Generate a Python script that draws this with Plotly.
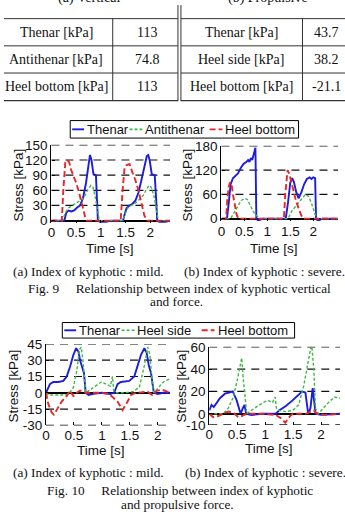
import plotly.graph_objects as go

W, H = 345, 515

# ---------------- data ----------------
tab_a_title = "(a) Vertical"
tab_b_title = "(b) Propulsive"
tab_a_labels = ["Thenar [kPa]", "Antithenar [kPa]", "Heel bottom [kPa]"]
tab_a_values = ["113", "74.8", "113"]
tab_b_labels = ["Thenar [kPa]", "Heel side [kPa]", "Heel bottom [kPa]"]
tab_b_values = ["43.7", "38.2", "-21.1"]

xtick_vals = [0, 0.5, 1, 1.5, 2]
xtick_text = ["0", "0.5", "1", "1.5", "2"]

# Fig 9 (a) mild, vertical
f9a_yticks = [0, 30, 60, 90, 120, 150]
f9a_thenar_t = [0, 0.26, 0.30, 0.34, 0.40, 0.46, 0.52, 0.58, 0.64, 0.70, 0.75, 0.78, 0.81, 0.85, 0.90, 0.92, 0.94, 1.00, 1.10, 1.20,
                1.45, 1.48, 1.52, 1.58, 1.64, 1.70, 1.76, 1.82, 1.88, 1.93, 1.96, 1.99, 2.03, 2.09, 2.12, 2.14, 2.20, 2.30, 2.40]
f9a_thenar_v = [0, 0, 15, 20, 18, 20, 26, 30, 45, 75, 110, 130, 120, 92, 90, 40, 0, -4, -3, 0,
                0, 12, 25, 30, 33, 40, 55, 80, 110, 128, 130, 118, 92, 90, 40, 0, -4, -3, 0]
f9a_anti_t = [0, 0.22, 0.28, 0.34, 0.42, 0.50, 0.56, 0.62, 0.68, 0.74, 0.80, 0.84, 0.88, 0.92, 0.97, 1.05,
              1.44, 1.50, 1.56, 1.62, 1.70, 1.78, 1.86, 1.92, 1.98, 2.02, 2.07, 2.12, 2.16, 2.25, 2.40]
f9a_anti_v = [0, 0, 15, 25, 30, 35, 38, 42, 50, 62, 70, 66, 50, 30, 0, 0,
              0, 15, 28, 30, 35, 42, 50, 62, 70, 66, 50, 25, 0, 0, 0]
f9a_heel_t = [0, 0.21, 0.24, 0.28, 0.32, 0.36, 0.40, 0.44, 0.50, 0.56, 0.62, 0.68, 0.72, 0.80,
              1.40, 1.44, 1.48, 1.52, 1.58, 1.64, 1.70, 1.76, 1.82, 1.88, 1.94, 2.00, 2.40]
f9a_heel_v = [0, 0, 60, 115, 120, 115, 100, 90, 75, 55, 30, 8, 0, 0,
              0, 60, 105, 110, 112, 95, 80, 60, 35, 10, 0, 0, 0]

# Fig 9 (b) severe, vertical
f9b_yticks = [0, 60, 120, 180]
f9b_thenar_t = [0, 0.12, 0.16, 0.20, 0.25, 0.30, 0.36, 0.42, 0.48, 0.54, 0.58, 0.61, 0.64, 0.67, 0.70, 0.74, 0.76, 0.80, 0.90,
                1.40, 1.45, 1.50, 1.54, 1.58, 1.63, 1.68, 1.74, 1.80, 1.86, 1.92, 1.96, 2.00, 2.04, 2.06, 2.10, 2.20, 2.54]
f9b_thenar_v = [0, 0, 40, 85, 100, 105, 112, 125, 135, 140, 145, 140, 150, 145, 160, 175, 0, -5, 0,
                0, 40, 90, 100, 90, 65, 50, 65, 85, 98, 102, 98, 102, 100, 0, -5, 0, 0]
f9b_anti_t = [0, 0.20, 0.26, 0.32, 0.38, 0.43, 0.50, 0.56, 0.62, 0.68, 0.74, 0.79, 0.84,
              1.40, 1.45, 1.54, 1.60, 1.65, 1.70, 1.76, 1.83, 1.90, 1.97, 2.04, 2.08, 2.54]
f9b_anti_v = [0, 0, 12, 25, 38, 45, 50, 48, 35, 20, 10, 5, 0,
              0, 0, 20, 28, 35, 43, 50, 60, 55, 35, 10, 0, 0]
f9b_heel_t = [0, 0.10, 0.13, 0.16, 0.19, 0.22, 0.25, 0.29, 0.33, 0.37,
              1.36, 1.39, 1.42, 1.44, 1.48, 1.54, 1.61, 1.68, 1.75, 1.79, 2.54]
f9b_heel_v = [0, 0, 50, 80, 90, 85, 60, 30, 10, 0,
              0, 60, 110, 120, 110, 80, 50, 25, 5, 0, 0]

# Fig 10 (a) mild, propulsive
f10a_yticks = [-30, -15, 0, 15, 30, 45]
f10a_thenar_t = [0, 0.07, 0.13, 0.22, 0.31, 0.37, 0.43, 0.49, 0.54, 0.58, 0.61, 0.66, 0.68, 0.71, 0.76, 0.85, 1.00, 1.15,
                 1.22, 1.28, 1.34, 1.49, 1.58, 1.64, 1.70, 1.76, 1.80, 1.84, 1.88, 1.93, 2.00, 2.10, 2.22]
f10a_thenar_v = [0, 8, 10, 10, 11, 15, 24, 35, 41, 38, 30, 22, 18, 0, -2, -1, 0, -1,
                 0, 8, 10, 11, 15, 25, 35, 41, 37, 25, 18, 0, -1, 0, 0]
f10a_side_t = [0, 0.05, 0.20, 0.35, 0.42, 0.49, 0.55, 0.60, 0.63, 0.66, 0.71, 0.80, 0.89, 0.99, 1.08, 1.15, 1.19, 1.21, 1.25,
               1.40, 1.55, 1.67, 1.76, 1.82, 1.86, 1.90, 1.93, 2.02, 2.10, 2.22]
f10a_side_v = [0, -2, -2, -2, 0, 5, 20, 40, 42, 30, 0, 3, 6, 10, 8, 6, 15, 2, 0,
               0, 1, 5, 25, 42, 35, 10, 0, 5, 10, 13]
f10a_heel_t = [0, 0.04, 0.10, 0.14, 0.20, 0.28, 0.37, 0.43, 0.49, 0.55, 0.61, 0.71, 0.95, 1.13,
               1.28, 1.37, 1.46, 1.52, 1.61, 1.82, 1.90, 1.99, 2.08, 2.22]
f10a_heel_v = [0, -10, -18, -20, -15, -8, -3, 2, -3, 0, 2, 0, 0, -1,
               -8, -16, -8, -2, 0, 1, -2, 2, 3, 0]

# Fig 10 (b) severe, propulsive
f10b_yticks = [-10, 0, 20, 40, 60]
f10b_thenar_t = [0, 0.04, 0.08, 0.13, 0.19, 0.28, 0.37, 0.42, 0.49, 0.53, 0.56, 0.60, 0.63, 0.66, 0.75, 0.95,
                 1.19, 1.25, 1.37, 1.49, 1.60, 1.66, 1.72, 1.77, 1.81, 1.85, 1.88, 1.90, 2.00, 2.34]
f10b_thenar_v = [3, 8, 6, 10, 14, 18, 19, 20, 12, 5, 0, 5, 8, 0, -1, 0,
                 0, 3, 7, 12, 17, 20, 19, 0, 5, 23, 10, 0, -1, 0]
f10b_side_t = [0, 0.25, 0.34, 0.43, 0.50, 0.56, 0.58, 0.61, 0.65, 0.67, 0.75, 0.84, 0.96, 1.05, 1.13, 1.18, 1.20, 1.25,
               1.37, 1.49, 1.60, 1.69, 1.78, 1.83, 1.87, 1.90, 1.95, 2.04, 2.13, 2.24, 2.34]
f10b_side_v = [0, 0, 5, 15, 30, 48, 50, 30, 5, 0, 3, 6, 10, 12, 10, 15, 5, 3,
               2, 3, 8, 25, 50, 63, 40, 5, 0, 5, 10, 15, 14]
f10b_heel_t = [0, 0.07, 0.16, 0.25, 0.34, 0.43, 0.52, 0.58, 0.66, 0.96,
               1.19, 1.28, 1.36, 1.43, 1.49, 1.72, 1.87, 1.93, 2.08, 2.34]
f10b_heel_v = [0, -3, -2, 0, 2, 1, -3, -2, 0, 0,
               -1, -4, -8, -3, 0, 0, 3, 0, -1, 0]

fig9_names = ["Thenar", "Antithenar", "Heel bottom"]
fig10_names = ["Thenar", "Heel side", "Heel bottom"]

# ---------------- styling helpers ----------------
BLUE = "#1c1ce0"
GREEN = "#3fb844"
RED = "#e8262b"
SANS = "Liberation Sans, Arial, sans-serif"
SERIF = "Liberation Serif, Times New Roman, serif"
STYLES = [dict(color=BLUE, width=1.9),
          dict(color=GREEN, width=1.4, dash="3px,2px"),
          dict(color=RED, width=1.9, dash="6px,3px")]
TICK_FONT = dict(family=SANS, size=13.5, color="#111")


def px(x):
    return x / W


def py(y):
    return 1 - y / H


fig = go.Figure()
shapes = []
annotations = []


def ann(text, x, y, size=13.3, family=SERIF, xanchor="center", yanchor="middle", angle=0):
    annotations.append(dict(text=text, x=px(x), y=py(y), xref="paper", yref="paper",
                            showarrow=False, xanchor=xanchor, yanchor=yanchor, textangle=angle,
                            font=dict(family=family, size=size, color="#111")))


def hline(x0, x1, y, width=1, color="#333"):
    shapes.append(dict(type="line", xref="paper", yref="paper", x0=px(x0), x1=px(x1), y0=py(y), y1=py(y),
                       line=dict(color=color, width=width)))


def vline(x, y0, y1, width=1, color="#333"):
    shapes.append(dict(type="line", xref="paper", yref="paper", x0=px(x), x1=px(x), y0=py(y0), y1=py(y1),
                       line=dict(color=color, width=width)))


# ---------------- table ----------------
hline(0, 176, 12)
hline(179, 345, 12)
for yy in (40, 68):
    hline(0, 176, yy)
    hline(179, 345, yy)
hline(0, 176, 96.5, width=1.3)
hline(179, 345, 96.5, width=1.3)
vline(176, -2, 97)
vline(179, -2, 97)
vline(110, 12, 96.5)
vline(302, 12, 96.5)
ann(tab_a_title, 86, -9, size=14)
ann(tab_b_title, 267, -9, size=14)
for i in range(3):
    yc = 26 + 28 * i
    ann(tab_a_labels[i], 53, yc, size=14)
    ann(tab_a_values[i], 145, yc, size=14)
    ann(tab_b_labels[i], 240, yc, size=14)
    ann(tab_b_values[i], 326, yc, size=14)

# ---------------- subplots ----------------
panels = [
    dict(i=1, xd=(48, 168), yd=(142, 222.1), xr=2.4, yr=(-4, 150), yt=f9a_yticks,
         series=[(f9a_thenar_t, f9a_thenar_v), (f9a_anti_t, f9a_anti_v), (f9a_heel_t, f9a_heel_v)],
         names=fig9_names),
    dict(i=2, xd=(220, 338), yd=(143, 220.5), xr=2.54, yr=(-6, 180), yt=f9b_yticks,
         series=[(f9b_thenar_t, f9b_thenar_v), (f9b_anti_t, f9b_anti_v), (f9b_heel_t, f9b_heel_v)],
         names=fig9_names),
    dict(i=3, xd=(42.5, 168), yd=(347, 431), xr=2.22, yr=(-30, 45), yt=f10a_yticks,
         series=[(f10a_thenar_t, f10a_thenar_v), (f10a_side_t, f10a_side_v), (f10a_heel_t, f10a_heel_v)],
         names=fig10_names),
    dict(i=4, xd=(207.7, 340), yd=(350, 430.5), xr=2.34, yr=(-10, 60), yt=f10b_yticks,
         series=[(f10b_thenar_t, f10b_thenar_v), (f10b_side_t, f10b_side_v), (f10b_heel_t, f10b_heel_v)],
         names=fig10_names),
]

layout_axes = {}
for p in panels:
    i = p["i"]
    xa = "x" if i == 1 else f"x{i}"
    ya = "y" if i == 1 else f"y{i}"
    for (t, v), st, nm in zip(p["series"], STYLES, p["names"]):
        fig.add_trace(go.Scatter(x=t, y=v, mode="lines", line=st, name=nm, showlegend=False,
                                 xaxis=xa, yaxis=ya, hoverinfo="skip"))
    layout_axes["xaxis" if i == 1 else f"xaxis{i}"] = dict(
        domain=[px(p["xd"][0]), px(p["xd"][1])], range=[0, p["xr"]], anchor=ya,
        tickvals=xtick_vals, ticktext=xtick_text, showgrid=False, zeroline=False, showline=False,
        ticks="inside", ticklen=3, tickcolor="black", tickfont=TICK_FONT)
    layout_axes["yaxis" if i == 1 else f"yaxis{i}"] = dict(
        domain=[py(p["yd"][1]), py(p["yd"][0])], range=list(p["yr"]), anchor=xa,
        tickvals=p["yt"], ticktext=[str(v) for v in p["yt"]], showgrid=False,
        zeroline=True, zerolinecolor="black", zerolinewidth=1.5,
        showline=True, linecolor="black", linewidth=1.3,
        ticks="inside", ticklen=3, tickcolor="black", tickfont=TICK_FONT)
    for gv in p["yt"]:
        if gv == 0:
            continue
        shapes.append(dict(type="line", xref=f"{xa} domain", yref=ya, x0=0, x1=1, y0=gv, y1=gv,
                           layer="below", line=dict(color="#111", width=1.2, dash="8px,6px")))

# axis titles
ann("Stress [kPa]", 15, 183, size=13.5, family=SANS, angle=-90)
ann("Stress [kPa]", 186, 183, size=13.5, family=SANS, angle=-90)
ann("Stress [kPa]", 10, 390, size=13.5, family=SANS, angle=-90)
ann("Stress [kPa]", 180, 390, size=13.5, family=SANS, angle=-90)
ann("Time [s]", 107, 249, size=13.5, family=SANS)
ann("Time [s]", 273, 249, size=13.5, family=SANS)
ann("Time [s]", 98, 457, size=13.5, family=SANS)
ann("Time [s]", 268, 455, size=13.5, family=SANS)


# ---------------- legends ----------------
def legend(box, yc, items, names):
    x0, x1, y0, y1 = box
    shapes.append(dict(type="rect", xref="paper", yref="paper", x0=px(x0), x1=px(x1), y0=py(y1), y1=py(y0),
                       line=dict(color="black", width=1), fillcolor="white"))
    for (lx0, lx1, tx), st, nm in zip(items, STYLES, names):
        s = dict(color=st["color"], width=max(st["width"], 1.6))
        if "dash" in st:
            s["dash"] = st["dash"]
        shapes.append(dict(type="line", xref="paper", yref="paper", x0=px(lx0), x1=px(lx1),
                           y0=py(yc), y1=py(yc), line=s))
        ann(nm, tx, yc, size=13, family=SANS, xanchor="left")


legend((67, 298, 117, 135), 126, [(69, 81, 82), (127, 140, 141), (208, 221, 222)], fig9_names)
legend((59, 294, 325, 341), 333, [(61, 73, 74), (119, 132, 133), (200, 213, 214)], fig10_names)

# ---------------- captions ----------------
ann("(a) Index of kyphotic : mild.", 7, 272, xanchor="left")
ann("(b) Index of kyphotic : severe.", 180, 272, xanchor="left")
ann("Fig. 9\u2003 Relationship between index of kyphotic vertical", 22, 290, xanchor="left")
ann("and force.", 146, 303, xanchor="left")
ann("(a) Index of kyphotic : mild.", 7, 479, xanchor="left")
ann("(b) Index of kyphotic : severe.", 181, 479, xanchor="left")
ann("Fig. 10\u2003 Relationship between index of kyphotic", 41, 498, xanchor="left")
ann("and propulsive force.", 116, 512, xanchor="left")

fig.update_layout(width=W, height=H, autosize=False, margin=dict(l=0, r=0, t=0, b=0, pad=0),
                  paper_bgcolor="white", plot_bgcolor="white", showlegend=False,
                  shapes=shapes, annotations=annotations, **layout_axes)

fig.write_html("out.html", config={"displayModeBar": False})
